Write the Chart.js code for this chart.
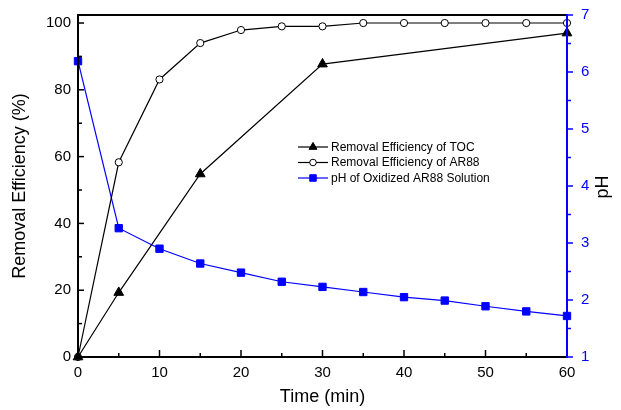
<!DOCTYPE html>
<html>
<head>
<meta charset="utf-8">
<title>Removal efficiency and pH</title>
<script src="https://cdn.jsdelivr.net/npm/chart.js@4.4.0/dist/chart.umd.min.js"></script>
<style>
  body { margin: 0; background: #fff; }
</style>
</head>
<body>
<canvas id="chart" width="621" height="410"></canvas>
<script>
'use strict';

// data
const timeTOC = [0, 5, 15, 30, 60];
const removalTOC = [0, 19.3, 54.8, 87.7, 97.0];

const timeAR88 = [0, 5, 10, 15, 20, 25, 30, 35, 40, 45, 50, 55, 60];
const removalAR88 = [0, 58.3, 83.1, 94.0, 97.9, 99.0, 99.0, 100, 100, 100, 100, 100, 100];

const timePH = [0, 5, 10, 15, 20, 25, 30, 35, 40, 45, 50, 55, 60];
const phValues = [6.19, 3.26, 2.9, 2.64, 2.48, 2.32, 2.23, 2.14, 2.05, 1.99, 1.89, 1.80, 1.72];

const xTicks = [0, 10, 20, 30, 40, 50, 60];
const leftTicks = [0, 20, 40, 60, 80, 100];
const rightTicks = [1, 2, 3, 4, 5, 6, 7];

const BLUE = '#0000ff';
const FONT = '"Liberation Sans", Arial, Helvetica, sans-serif';

Chart.defaults.font.family = FONT;
Chart.defaults.color = '#000';

function toPoints(xs, ys) {
  return xs.map((x, i) => ({ x: x, y: ys[i] }));
}

// midpoints between major ticks, for the small ticks
function minors(arr) {
  let out = [];
  for (let i = 0; i < arr.length - 1; i++) {
    out.push((arr[i] + arr[i + 1]) / 2);
  }
  return out;
}

function line(ctx, x1, y1, x2, y2) {
  ctx.beginPath();
  ctx.moveTo(x1, y1);
  ctx.lineTo(x2, y2);
  ctx.stroke();
}

function marker(ctx, style, x, y, r, fill, stroke) {
  ctx.fillStyle = fill;
  ctx.strokeStyle = stroke;
  ctx.lineWidth = 1;
  ctx.beginPath();
  if (style === 'triangle') {
    ctx.moveTo(x, y - r);
    ctx.lineTo(x + r * 0.866, y + r * 0.5);
    ctx.lineTo(x - r * 0.866, y + r * 0.5);
    ctx.closePath();
  } else if (style === 'rect') {
    let s = r * Math.SQRT1_2;
    ctx.rect(x - s, y - s, 2 * s, 2 * s);
  } else {
    ctx.arc(x, y, r, 0, Math.PI * 2);
  }
  ctx.fill();
  ctx.stroke();
}

// fixed axis sizes so the plot area sits where the original one does
function fixSize(size, vertical) {
  return s => {
    if (vertical) {
      s.width = size;
      s.paddingTop = 0;
      s.paddingBottom = 0;
    } else {
      s.height = size;
    }
  };
}

// axes frame, inward/outward ticks, legend and the pH title
const framePlugin = {
  id: 'frame',
  afterDatasetsDraw(chart) {
    const { ctx, chartArea: a, scales } = chart;
    ctx.save();

    ctx.strokeStyle = '#000';
    ctx.lineWidth = 2;
    ctx.beginPath();
    ctx.moveTo(a.right, a.top);
    ctx.lineTo(a.left, a.top);
    ctx.lineTo(a.left, a.bottom);
    ctx.lineTo(a.right, a.bottom);
    ctx.stroke();

    ctx.lineWidth = 1.5;
    xTicks.forEach(v => {
      let px = scales.x.getPixelForValue(v);
      line(ctx, px, a.bottom, px, a.bottom - 7);
    });
    minors(xTicks).forEach(v => {
      let px = scales.x.getPixelForValue(v);
      line(ctx, px, a.bottom, px, a.bottom - 4);
    });
    leftTicks.forEach(v => {
      let py = scales.y.getPixelForValue(v);
      line(ctx, a.left, py, a.left + 6, py);
    });
    minors(leftTicks).forEach(v => {
      let py = scales.y.getPixelForValue(v);
      line(ctx, a.left, py, a.left + 4, py);
    });

    ctx.strokeStyle = BLUE;
    ctx.lineWidth = 2;
    line(ctx, a.right, a.top - 1, a.right, a.bottom + 1);
    ctx.lineWidth = 1.5;
    rightTicks.forEach(v => {
      let py = scales.y1.getPixelForValue(v);
      line(ctx, a.right, py, a.right + 6, py);
    });
    minors(rightTicks).forEach(v => {
      let py = scales.y1.getPixelForValue(v);
      line(ctx, a.right, py, a.right + 4, py);
    });

    // legend
    let lx = 298, ly = 147;
    ctx.font = '12px ' + FONT;
    ctx.textBaseline = 'middle';
    ctx.textAlign = 'left';
    chart.data.datasets.forEach((ds, i) => {
      let y = ly + i * 15.5;
      ctx.strokeStyle = ds.borderColor;
      ctx.lineWidth = 1.2;
      line(ctx, lx, y, lx + 30, y);
      marker(ctx, ds.pointStyle, lx + 15, y, ds.pointStyle === 'circle' ? 3.3 : 4.6,
        ds.pointBackgroundColor, ds.pointBorderColor);
      ctx.fillStyle = '#000';
      ctx.fillText(ds.label, lx + 33, y + 0.5);
    });

    // right axis title
    ctx.translate(603, 187);
    ctx.rotate(-Math.PI / 2);
    ctx.font = '18px ' + FONT;
    ctx.textAlign = 'center';
    ctx.fillStyle = '#000';
    ctx.fillText('pH', 0, 0);

    ctx.restore();
  }
};

let ctx = document.getElementById('chart').getContext('2d');

// eslint-disable-next-line no-unused-vars
let chart = new Chart(ctx, {
  type: 'line',
  data: {
    datasets: [{
      label: 'Removal Efficiency of TOC',
      data: toPoints(timeTOC, removalTOC),
      yAxisID: 'y',
      borderColor: '#000',
      borderWidth: 1.2,
      pointStyle: 'triangle',
      pointRadius: 5.6,
      pointBackgroundColor: '#000',
      pointBorderColor: '#000',
      pointBorderWidth: 1
    }, {
      label: 'Removal Efficiency of AR88',
      data: toPoints(timeAR88, removalAR88),
      yAxisID: 'y',
      borderColor: '#000',
      borderWidth: 1.2,
      pointStyle: 'circle',
      pointRadius: 3.6,
      pointBackgroundColor: '#fff',
      pointBorderColor: '#000',
      pointBorderWidth: 1
    }, {
      label: 'pH of Oxidized AR88 Solution',
      data: toPoints(timePH, phValues),
      yAxisID: 'y1',
      borderColor: BLUE,
      borderWidth: 1.2,
      pointStyle: 'rect',
      pointRadius: 5.2,
      pointBackgroundColor: BLUE,
      pointBorderColor: BLUE,
      pointBorderWidth: 1
    }]
  },
  options: {
    responsive: false,
    animation: false,
    clip: false,
    layout: { padding: { top: 15, left: 0, right: 0, bottom: 0 } },
    plugins: {
      legend: { display: false },
      tooltip: { enabled: false }
    },
    scales: {
      x: {
        type: 'linear',
        min: 0,
        max: 60,
        afterBuildTicks: s => { s.ticks = xTicks.map(v => ({ value: v })); },
        afterFit: fixSize(53, false),
        grid: { display: false, drawTicks: false },
        border: { display: false },
        ticks: { padding: 7, font: { size: 15 }, color: '#000' },
        title: {
          display: true,
          text: 'Time (min)',
          font: { size: 18 },
          color: '#000',
          padding: { top: 0, bottom: 2 }
        }
      },
      y: {
        position: 'left',
        min: 0,
        max: 102.4,
        afterBuildTicks: s => { s.ticks = leftTicks.map(v => ({ value: v })); },
        afterFit: fixSize(78, true),
        grid: { display: false, drawTicks: false },
        border: { display: false },
        ticks: { padding: 7, font: { size: 15 }, color: '#000' },
        title: {
          display: true,
          text: 'Removal Efficiency (%)',
          font: { size: 18 },
          color: '#000',
          padding: { top: 9, bottom: 0 }
        }
      },
      y1: {
        position: 'right',
        min: 1,
        max: 7,
        afterBuildTicks: s => { s.ticks = rightTicks.map(v => ({ value: v })); },
        afterFit: fixSize(54, true),
        grid: { display: false, drawTicks: false },
        border: { display: false },
        ticks: { padding: 14, font: { size: 15 }, color: BLUE }
      }
    }
  },
  plugins: [framePlugin]
});
</script>
</body>
</html>
